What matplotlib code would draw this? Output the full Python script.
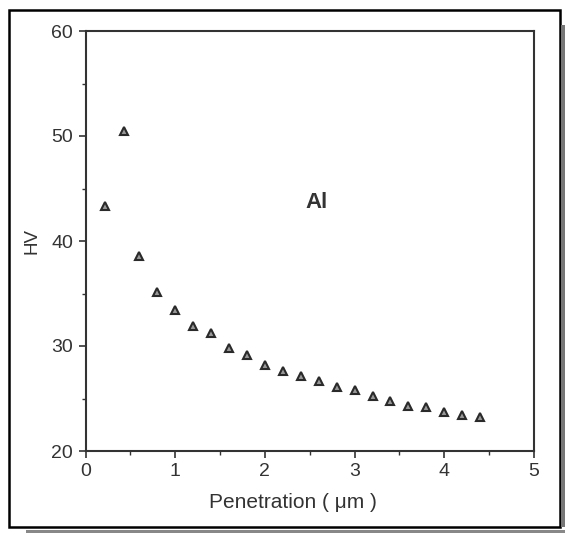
import matplotlib
matplotlib.use("Agg")
import matplotlib.pyplot as plt
from matplotlib.patches import Rectangle
from matplotlib.ticker import MultipleLocator

penetration = [0.22, 0.43, 0.6, 0.8, 1.0, 1.2, 1.4, 1.6, 1.8, 2.0, 2.2, 2.4,
               2.6, 2.8, 3.0, 3.2, 3.4, 3.6, 3.8, 4.0, 4.2, 4.4]
hv = [43.3, 50.5, 38.6, 35.1, 33.4, 31.9, 31.2, 29.8, 29.1, 28.2, 27.6, 27.15,
      26.7, 26.1, 25.8, 25.2, 24.8, 24.3, 24.2, 23.7, 23.4, 23.2]
x_ticks = [0, 1, 2, 3, 4, 5]
y_ticks = [20, 30, 40, 50, 60]

plt.rcParams['font.family'] = ['Liberation Sans', 'DejaVu Sans']
ink = '#333333'

fig = plt.figure(figsize=(5.65, 5.33), dpi=100)
ax = fig.add_axes([85.5 / 565, 1 - 451 / 533, (534 - 85.5) / 565, (451 - 31) / 533])

ax.plot(penetration, hv, linestyle='none', marker='^', markersize=5.5,
        markerfacecolor='#999999', markeredgecolor='#2a2a2a', markeredgewidth=1.5)

ax.set_xlim(0, 5)
ax.set_ylim(20, 60)
ax.set_xticks(x_ticks)
ax.set_yticks(y_ticks)
ax.xaxis.set_minor_locator(MultipleLocator(0.5))
ax.yaxis.set_minor_locator(MultipleLocator(5))
ax.tick_params(which='major', direction='out', length=5, width=1.2, color=ink,
               labelsize=14, labelcolor=ink, pad=4)
ax.tick_params(which='minor', direction='out', length=3, width=1.0, color=ink)
for s in ax.spines.values():
    s.set_color(ink)
    s.set_linewidth(1.5)

ax.set_xlabel('Penetration ( μm )', fontsize=15, color=ink)
ax.xaxis.set_label_coords(0.462, -0.10)
ax.set_ylabel('HV', fontsize=13.5, color=ink, labelpad=8)
ax.text(2.58, 43.7, 'Al', fontsize=16, fontweight='bold', color=ink,
        ha='center', va='center')

# outer frame and scan edges
fig.patches.append(Rectangle((9 / 565, 1 - 527 / 533), 551 / 565, 517 / 533,
                             transform=fig.transFigure, fill=False,
                             edgecolor='black', linewidth=1.8))
fig.patches.append(Rectangle((26 / 565, 0), 539 / 565, 3 / 533,
                             transform=fig.transFigure, facecolor='#888888',
                             edgecolor='none'))
fig.patches.append(Rectangle((561 / 565, 1 - 527 / 533), 4 / 565, 502 / 533,
                             transform=fig.transFigure, facecolor='#777777',
                             edgecolor='none'))

fig.savefig('out.png', dpi=100)
